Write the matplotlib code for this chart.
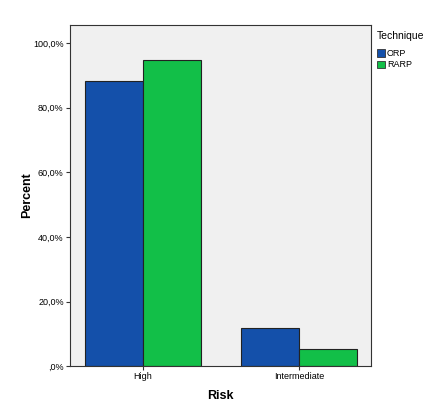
import matplotlib.pyplot as plt
import numpy as np
from matplotlib.patches import Patch

plt.rcParams['font.family'] = 'Liberation Sans'

risk = ['High', 'Intermediate']
techniques = ['ORP', 'RARP']
orp = [88.2, 11.8]
rarp = [94.6, 5.4]
colors = {'ORP': '#1450aa', 'RARP': '#12bf48'}

fig = plt.figure(figsize=(4.4, 4.18), dpi=100)
ax = fig.add_axes([0.159, 0.124, 0.684, 0.816])
ax.set_facecolor('#f0f0f0')

x = np.arange(len(risk))
w = 0.372
ax.bar(x - w/2, orp, w, color=colors['ORP'], edgecolor='#222222', linewidth=0.8)
ax.bar(x + w/2, rarp, w, color=colors['RARP'], edgecolor='#222222', linewidth=0.8)

ax.set_xlim(-0.468, 1.46)
ax.set_ylim(0, 105.5)
ax.set_xticks(x)
ax.set_xticklabels(risk, fontsize=6.5)
yt = [0, 20, 40, 60, 80, 100]
ax.set_yticks(yt)
ax.set_yticklabels([',0%' if v == 0 else f'{v},0%' for v in yt], fontsize=6.5)
ax.tick_params(axis='both', length=3, width=0.8, color='#333333', pad=1.5)

for s in ax.spines.values():
    s.set_linewidth(0.8)
    s.set_color('#333333')

ax.set_xlabel('Risk', fontsize=9, fontweight='bold', labelpad=6)
ax.set_ylabel('Percent', fontsize=9, fontweight='bold', labelpad=0)

handles = [Patch(facecolor=colors[t], edgecolor='#333333', linewidth=0.6) for t in techniques]
leg = fig.legend(handles, techniques, title='Technique', loc='upper left',
                 bbox_to_anchor=(0.847, 0.937), frameon=False, fontsize=6.5,
                 title_fontsize=7.5, handlelength=0.9, handleheight=0.9,
                 handletextpad=0.2, labelspacing=0.25, borderpad=0)
leg._legend_box.align = 'left'
leg._legend_box.sep = 6

fig.savefig('out.png', dpi=100, facecolor='white')
